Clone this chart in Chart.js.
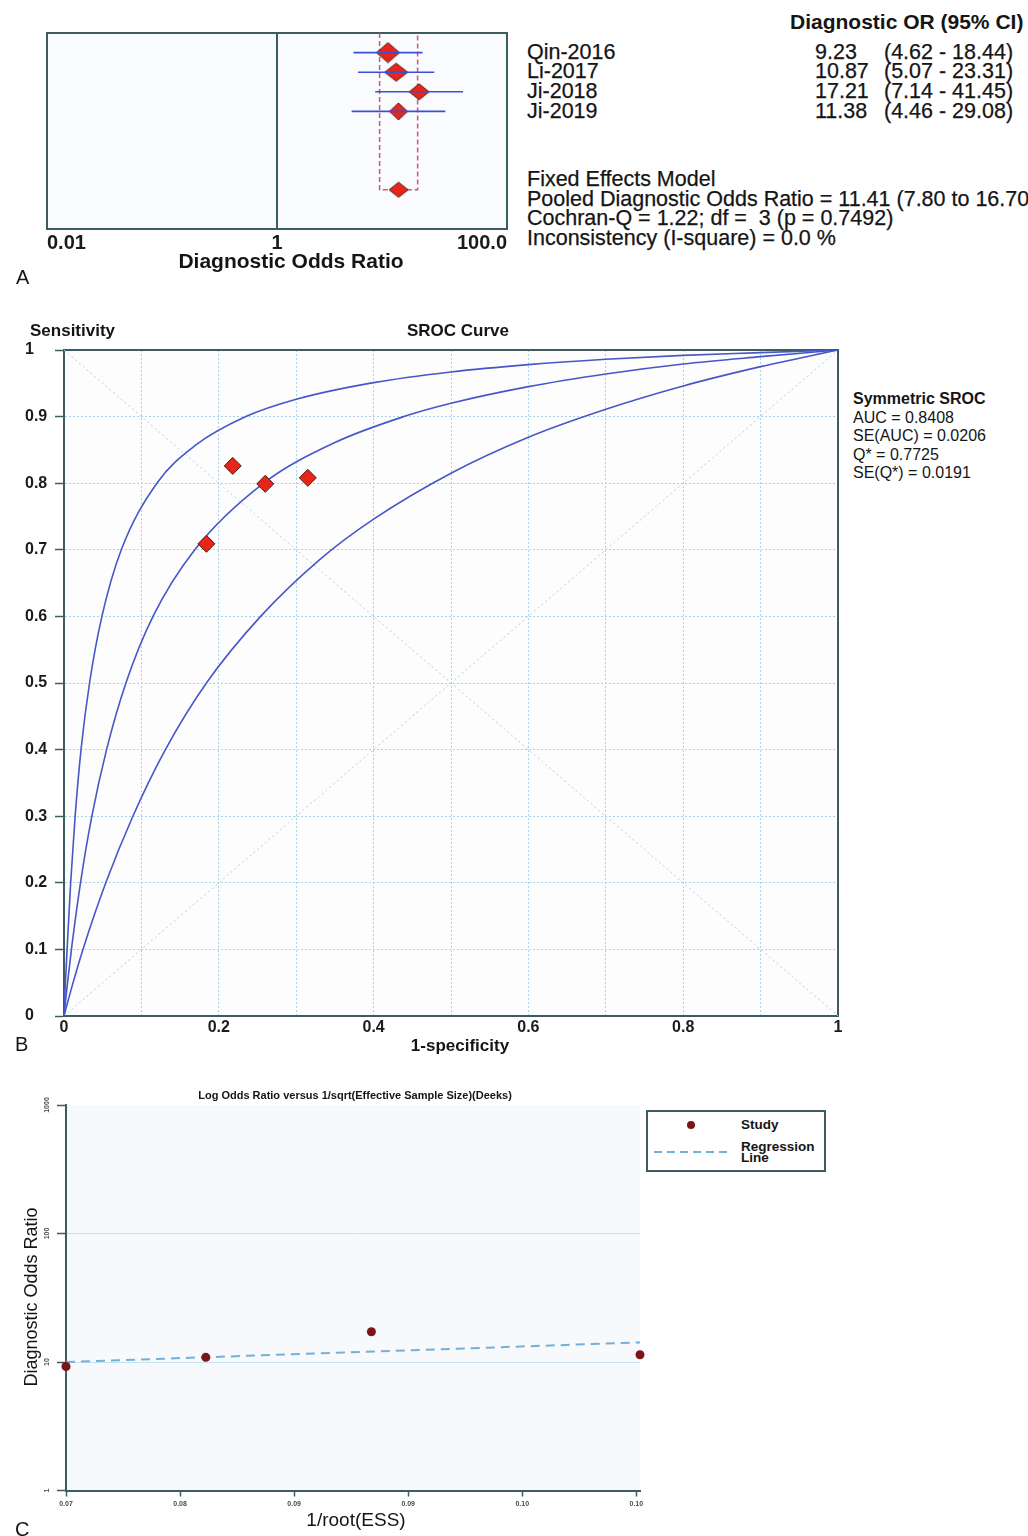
<!DOCTYPE html>
<html lang="en">
<head>
<meta charset="UTF-8">
<title>Forest plot, SROC curve and Deeks funnel plot</title>
<script src="https://cdn.jsdelivr.net/npm/chart.js"></script>
<style>
  body { margin: 0; background: #fff; }
  #page { position: relative; width: 1028px; height: 1536px; overflow: hidden;
          font-family: "Liberation Sans", Arial, sans-serif; color: #151515; background: #fff; }
  #page canvas { position: absolute; }
  .t { position: absolute; white-space: pre; line-height: 20px; }
  .b { font-weight: bold; }
  .c { transform: translateX(-50%); }
  .r { font-size: 21.5px; -webkit-text-stroke: 0.25px #151515; }
</style>
</head>
<body>
<div id="page">
  <canvas id="forest" width="520" height="275" style="left:0px;top:0px"></canvas>
  <canvas id="sroc" width="850" height="730" style="left:0px;top:320px"></canvas>
  <canvas id="deeks" width="660" height="440" style="left:0px;top:1080px"></canvas>

  <!-- panel A text -->
  <div class="t b" style="left:790px;top:12px;font-size:21px">Diagnostic OR (95% CI)</div>
  <div class="t r" id="pooledTxt" style="left:527px;top:170px;line-height:19.6px"></div>
  <div class="t b c" style="left:291px;top:251px;font-size:21px">Diagnostic Odds Ratio</div>
  <div class="t" style="left:16px;top:267px;font-size:20px">A</div>

  <!-- panel B text -->
  <div class="t b" style="left:30px;top:321px;font-size:17px">Sensitivity</div>
  <div class="t b c" style="left:458px;top:321px;font-size:17px">SROC Curve</div>
  <div class="t b c" style="left:460px;top:1036px;font-size:17px">1-specificity</div>
  <div class="t" style="left:15px;top:1034px;font-size:20px">B</div>
  <div class="t" style="left:853px;top:390px;font-size:16px;line-height:18.6px"><b>Symmetric SROC</b>
AUC = 0.8408
SE(AUC) = 0.0206
Q* = 0.7725
SE(Q*) = 0.0191</div>

  <!-- panel C text -->
  <div class="t b c" style="left:355px;top:1085px;font-size:11px">Log Odds Ratio versus 1/sqrt(Effective Sample Size)(Deeks)</div>
  <div class="t c" style="left:356px;top:1510px;font-size:19px">1/root(ESS)</div>
  <div class="t" style="left:31px;top:1297px;font-size:18px;transform:translate(-50%,-50%) rotate(-90deg)">Diagnostic Odds Ratio</div>
  <div class="t" style="left:15px;top:1519px;font-size:20px">C</div>
  <div style="position:absolute;left:646px;top:1110px;width:176px;height:58px;border:2px solid #3d5c60;background:#fff">
    <span style="position:absolute;left:39px;top:9px;width:8px;height:8px;border-radius:50%;background:#7a1518"></span>
    <div class="t b" style="left:93px;top:3px;font-size:13.5px">Study</div>
    <span style="position:absolute;left:6px;top:39px;width:76px;height:2px;background:repeating-linear-gradient(90deg,#74b0d8 0 8px,transparent 8px 13px)"></span>
    <div class="t b" style="left:93px;top:29px;font-size:13.5px;line-height:11px">Regression
Line</div>
  </div>
</div>

<script>
// ---- panel A: forest plot of diagnostic odds ratios
const studies = ['Qin-2016', 'Li-2017', 'Ji-2018', 'Ji-2019'];
const dor = [9.23, 10.87, 17.21, 11.38];
const dorLow = [4.62, 5.07, 7.14, 4.46];
const dorHigh = [18.44, 23.31, 41.45, 29.08];
const pooledDOR = [11.41, 7.80, 16.70];   // estimate, lower, upper
const forestTicks = [0.01, 1, 100];

// ---- panel B: SROC (points as [1-specificity, sensitivity])
const studyFpr = [0.218, 0.260, 0.315, 0.184];
const studySens = [0.826, 0.799, 0.808, 0.709];
const srocUpper = [[0, 0], [0.0015, 0.042], [0.004, 0.1], [0.0086, 0.2], [0.0144, 0.3], [0.022, 0.4],
  [0.033, 0.5], [0.049, 0.6], [0.074, 0.7], [0.12, 0.8], [0.17, 0.857], [0.235, 0.9], [0.3, 0.926],
  [0.4, 0.951], [0.5, 0.967], [0.6, 0.978], [0.7, 0.986], [0.8, 0.992], [0.9, 0.996], [1, 1]];
const srocMiddle = [[0, 0], [0.004, 0.044], [0.0096, 0.1], [0.0213, 0.2], [0.036, 0.3], [0.055, 0.4],
  [0.08, 0.5], [0.115, 0.6], [0.169, 0.7], [0.258, 0.8], [0.35, 0.861], [0.439, 0.9], [0.5, 0.92],
  [0.6, 0.945], [0.7, 0.964], [0.8, 0.979], [0.9, 0.99], [1, 1]];
const srocLower = [[0, 0], [0.01, 0.043], [0.0245, 0.1], [0.054, 0.2], [0.089, 0.3], [0.131, 0.4],
  [0.184, 0.5], [0.254, 0.6], [0.33, 0.685], [0.4, 0.746], [0.5, 0.815], [0.6, 0.869], [0.7, 0.911],
  [0.8, 0.946], [0.9, 0.975], [1, 1]];

// ---- panel C: Deeks funnel plot
const deeksX = [0.0730, 0.0806, 0.0896, 0.1042];
const deeksDOR = [9.23, 10.87, 17.21, 11.38];
const regX = [0.0730, 0.1042];
const regDOR = [10.0, 14.2];
const deeksXTicks = [0.0730, 0.0792, 0.0854, 0.0916, 0.0978, 0.1040];
const deeksYTicks = [1, 10, 100, 1000];

const frameColor = '#3d5c60';
const gridBlue = '#a9d2e5';
const curveBlue = '#4657c6';
Chart.defaults.font.family = '"Liberation Sans", Arial, sans-serif';
Chart.defaults.color = '#1b1b1b';

function framePlugin(fill, stroke) {
  return {
    id: 'frame',
    beforeDraw(chart) {
      const { ctx, chartArea: a } = chart;
      ctx.save();
      ctx.fillStyle = fill;
      ctx.fillRect(a.left, a.top, a.width, a.height);
      ctx.restore();
    },
    beforeDatasetsDraw(chart) {
      if (!stroke) return;
      const { ctx, chartArea: a } = chart;
      ctx.save();
      ctx.strokeStyle = stroke;
      ctx.lineWidth = 2;
      ctx.strokeRect(a.left, a.top, a.width, a.height);
      ctx.restore();
    }
  };
}

function diamond(w, h) {
  const c = document.createElement('canvas');
  c.width = w + 2; c.height = h + 2;
  const g = c.getContext('2d');
  g.beginPath();
  g.moveTo(c.width / 2, 1); g.lineTo(c.width - 1, c.height / 2);
  g.lineTo(c.width / 2, c.height - 1); g.lineTo(1, c.height / 2);
  g.closePath();
  g.fillStyle = '#e8251b'; g.fill();
  g.lineWidth = 1; g.strokeStyle = '#4b1d12'; g.stroke();
  return c;
}

// text table next to the forest plot
const page = document.getElementById('page');
const forestTextTop = [41.5, 61, 81, 101];
function addText(txt, left, top) {
  const d = document.createElement('div');
  d.className = 't r';
  d.textContent = txt;
  d.style.left = left + 'px';
  d.style.top = top + 'px';
  page.appendChild(d);
}
studies.forEach((s, i) => {
  addText(s, 527, forestTextTop[i]);
  addText(dor[i].toFixed(2), 815, forestTextTop[i]);
  addText(`(${dorLow[i].toFixed(2)} - ${dorHigh[i].toFixed(2)})`, 884, forestTextTop[i]);
});
document.getElementById('pooledTxt').textContent =
  'Fixed Effects Model\n' +
  `Pooled Diagnostic Odds Ratio = ${pooledDOR[0].toFixed(2)} (${pooledDOR[1].toFixed(2)} to ${pooledDOR[2].toFixed(2)})\n` +
  'Cochran-Q = 1.22; df =  3 (p = 0.7492)\n' +
  'Inconsistency (I-square) = 0.0 %';

// ---------- A
const pooledRow = studies.length + 4;
const forestDiamondSize = [[23, 20], [23, 18], [20, 16], [18, 17], [19, 15]];
new Chart(document.getElementById('forest'), {
  type: 'scatter',
  data: {
    datasets: [
      ...studies.map((s, i) => ({
        data: [{ x: dorLow[i], y: i + 1 }, { x: dorHigh[i], y: i + 1 }],
        showLine: true, borderColor: '#3b4fd6', borderWidth: 1.6, pointRadius: 0, order: 0
      })),
      {
        data: [...dor.map((v, i) => ({ x: v, y: i + 1 })), { x: pooledDOR[0], y: pooledRow }],
        pointStyle: forestDiamondSize.map(([w, h]) => diamond(w, h)),
        pointRadius: 10, order: 1
      },
      {
        data: [{ x: 1, y: 0 }, { x: 1, y: 10 }],
        showLine: true, borderColor: frameColor, borderWidth: 2, pointRadius: 0, order: 2
      },
      {
        data: [{ x: pooledDOR[1], y: 0 }, { x: pooledDOR[1], y: pooledRow },
               { x: pooledDOR[2], y: pooledRow }, { x: pooledDOR[2], y: 0 }],
        showLine: true, borderColor: '#cf5870', borderWidth: 1.5, borderDash: [5, 3],
        pointRadius: 0, order: 3
      }
    ]
  },
  options: {
    responsive: false, animation: false,
    layout: { padding: { left: 47, top: 33, right: 13, bottom: 16 } },
    plugins: { legend: { display: false }, tooltip: { enabled: false } },
    scales: {
      x: {
        type: 'logarithmic', min: 0.01, max: 100,
        afterBuildTicks: s => { s.ticks = forestTicks.map(v => ({ value: v })); },
        afterFit: s => { s.height = 30; },
        grid: { display: false, drawTicks: false },
        border: { display: false },
        ticks: {
          autoSkip: false, maxRotation: 0, align: 'inner', padding: 2,
          font: { size: 20, weight: 'bold' },
          callback: v => (v === 100 ? '100.0' : String(v))
        }
      },
      y: { display: false, min: 0, max: 10, reverse: true }
    }
  },
  plugins: [framePlugin('#fafbfe', frameColor)]
});

// ---------- B
const fmt = v => (v === 0 || v === 1 ? String(v) : v.toFixed(1));
const toXY = pts => pts.map(([x, y]) => ({ x, y }));
const curve = pts => ({
  data: toXY(pts), showLine: true, borderColor: curveBlue, borderWidth: 1.6,
  pointRadius: 0, cubicInterpolationMode: 'monotone', order: 1
});
new Chart(document.getElementById('sroc'), {
  type: 'scatter',
  data: {
    datasets: [
      {
        data: studyFpr.map((x, i) => ({ x, y: studySens[i] })),
        pointStyle: 'rectRot', pointRadius: 8.5, backgroundColor: '#e8251b',
        borderColor: '#4b1d12', borderWidth: 1, order: 0
      },
      curve(srocUpper), curve(srocMiddle), curve(srocLower),
      { data: [{ x: 0, y: 0 }, { x: 1, y: 1 }], showLine: true, borderColor: gridBlue, borderWidth: 1,
        borderDash: [2, 3], pointRadius: 0, order: 2 },
      { data: [{ x: 0, y: 1 }, { x: 1, y: 0 }], showLine: true, borderColor: gridBlue, borderWidth: 1,
        borderDash: [2, 3], pointRadius: 0, order: 2 }
    ]
  },
  options: {
    responsive: false, animation: false,
    layout: { padding: { left: 25, top: 30, right: 12, bottom: 10 } },
    plugins: { legend: { display: false }, tooltip: { enabled: false } },
    scales: {
      x: {
        min: 0, max: 1,
        afterFit: s => { s.height = 24; },
        grid: { color: gridBlue, drawTicks: false },
        border: { color: frameColor, width: 2, dash: [2, 2] },
        ticks: {
          stepSize: 0.1, autoSkip: false, maxRotation: 0, padding: 2,
          font: { size: 16, weight: 'bold' },
          callback: (v, i) => (i % 2 ? '' : fmt(v))
        }
      },
      y: {
        min: 0, max: 1,
        afterFit: s => { s.width = 39; },
        grid: { color: gridBlue, tickColor: frameColor, tickLength: 9, tickWidth: 1.5, tickBorderDash: [] },
        border: { color: frameColor, width: 2, dash: [2, 2] },
        ticks: {
          stepSize: 0.1, crossAlign: 'far', padding: 2,
          font: { size: 16, weight: 'bold' },
          callback: v => fmt(v)
        }
      }
    }
  },
  plugins: [framePlugin('#fdfdfe', frameColor)]
});

// ---------- C
new Chart(document.getElementById('deeks'), {
  type: 'scatter',
  data: {
    datasets: [
      {
        data: deeksX.map((x, i) => ({ x, y: deeksDOR[i] })),
        pointRadius: 4.5, backgroundColor: '#7a1518', borderWidth: 0, clip: false, order: 0
      },
      {
        data: regX.map((x, i) => ({ x, y: regDOR[i] })),
        showLine: true, borderColor: '#74b0d8', borderWidth: 2, borderDash: [9, 6],
        pointRadius: 0, clip: false, order: 1
      }
    ]
  },
  options: {
    responsive: false, animation: false,
    layout: { padding: { left: 38, top: 25, right: 20, bottom: 10 } },
    plugins: { legend: { display: false }, tooltip: { enabled: false } },
    scales: {
      x: {
        min: 0.0730, max: 0.1042,
        afterBuildTicks: s => { s.ticks = deeksXTicks.map(v => ({ value: v })); },
        afterFit: s => { s.height = 19.5; },
        grid: { drawOnChartArea: false, tickLength: 6, tickColor: frameColor, tickWidth: 1.5 },
        border: { color: frameColor, width: 2 },
        ticks: {
          autoSkip: false, maxRotation: 0, padding: 3, color: '#4a4a4a',
          font: { size: 7, weight: 'bold' },
          callback: v => v.toFixed(2)
        }
      },
      y: {
        type: 'logarithmic', min: 1, max: 1000,
        afterBuildTicks: s => { s.ticks = deeksYTicks.map(v => ({ value: v })); },
        afterFit: s => { s.width = 28; },
        grid: {
          color: c => (c.tick && (c.tick.value === 10 || c.tick.value === 100) ? '#c3e3ef' : 'rgba(0,0,0,0)'),
          tickColor: frameColor, tickLength: 9, tickWidth: 1.5
        },
        border: { color: frameColor, width: 2 },
        ticks: {
          autoSkip: false, minRotation: 90, maxRotation: 90, crossAlign: 'center', padding: 2,
          color: '#4a4a4a', font: { size: 7, weight: 'bold' },
          callback: v => String(v)
        }
      }
    }
  },
  plugins: [framePlugin('#f8f9fc', null)]
});
</script>
</body>
</html>
